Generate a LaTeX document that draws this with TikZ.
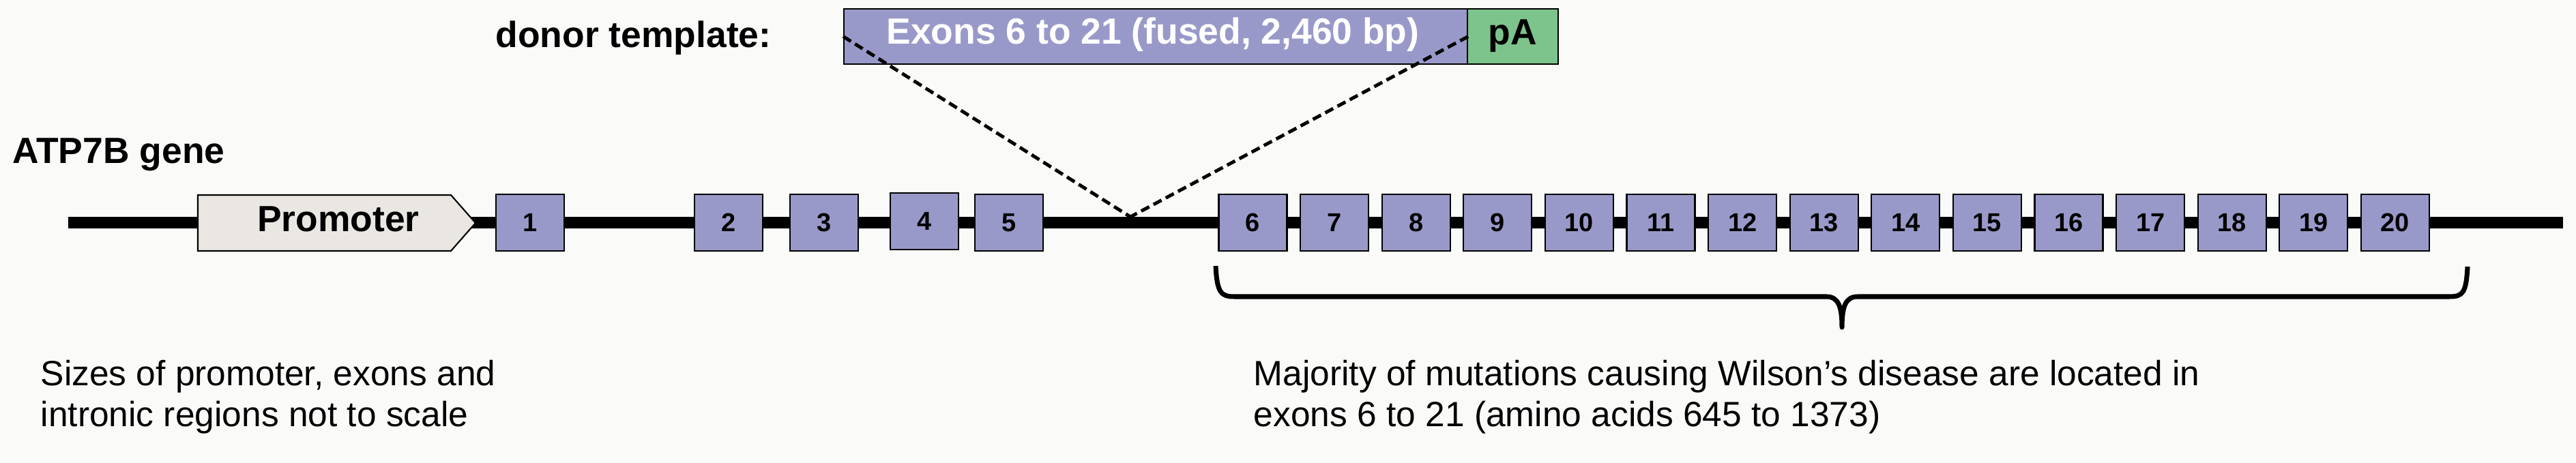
\documentclass[tikz,border=0pt]{standalone}
\usepackage{fontspec}
\setmainfont{Liberation Sans}
\definecolor{exonblue}{RGB}{153,153,201}
\definecolor{promgray}{RGB}{234,231,227}
\definecolor{pagreen}{RGB}{125,195,140}
\definecolor{bggray}{RGB}{250,250,248}

\begin{document}
\begin{tikzpicture}[
exon/.style={draw, fill=exonblue, line width=0.6pt, minimum width=1cm, minimum height=0.83cm, inner sep=0pt, font=\bfseries\fontsize{10.8}{12}\selectfont},
title/.style={inner sep=0pt, font=\bfseries\fontsize{15.2}{18}\selectfont},
note/.style={inner sep=0pt, align=left, font=\fontsize{14.65}{17.07}\selectfont},
dashline/.style={line width=1.4pt, dash pattern=on 3.8pt off 2pt},
brace/.style={line width=2pt, line join=round}
]
\fill[bggray] (0,0) rectangle (37.76,-6.79);
\useasboundingbox (0,0) rectangle (37.76,-6.79);

\node[title, anchor=base west] (donorlbl) at (7.26,-0.70) {donor template:};
\node[title, anchor=base west] (genelbl) at (0.18,-2.40) {ATP7B gene};

\node[draw, fill=exonblue, line width=0.6pt, minimum width=9.14cm, minimum height=0.81cm, inner sep=0pt] (donor) at (16.94,-0.535) {};
\node[draw, fill=pagreen, line width=0.6pt, minimum width=1.33cm, minimum height=0.81cm, inner sep=0pt] (pA) at (22.175,-0.535) {};
\node[title, text=white, anchor=base] (donortxt) at (16.90,-0.65) {Exons 6 to 21 (fused, 2,460 bp)};
\node[title, anchor=base] (patxt) at (22.175,-0.66) {pA};

\coordinate (gstart) at (1.00,-3.265);
\coordinate (gend) at (37.57,-3.265);
\draw[line width=0.17cm] (gstart) -- (gend);

\draw[fill=promgray, line width=0.6pt] (2.90,-2.86) -- (6.61,-2.86) -- (6.97,-3.27) -- (6.61,-3.68) -- (2.90,-3.68) -- cycle;
\node[title, anchor=base] (prom) at (4.96,-3.40) {Promoter};

\node[exon] (e1) at (7.77,-3.265) {1};
\node[exon] (e2) at (10.68,-3.265) {2};
\node[exon] (e3) at (12.08,-3.265) {3};
\node[exon] (e4) at (13.55,-3.245) {4};
\node[exon] (e5) at (14.79,-3.265) {5};
\foreach \i in {6,...,20}
  \node[exon] (e\i) at ({18.365+(\i-6)*1.196},-3.265) {\i};

\coordinate (ins) at (16.57,-3.18);
\draw[dashline] (donor.west) -- (ins);
\draw[dashline] (donor.east) -- (ins);

\draw[brace] (17.82,-3.90) .. controls (17.84,-4.30) and (17.90,-4.35) .. (18.10,-4.35) -- (26.77,-4.35)
  .. controls (26.95,-4.35) and (27.00,-4.50) .. (27.00,-4.80)
  .. controls (27.00,-4.50) and (27.05,-4.35) .. (27.23,-4.35) -- (35.90,-4.35)
  .. controls (36.10,-4.35) and (36.15,-4.30) .. (36.17,-3.91);

\node[note, anchor=north west] (scalenote) at (0.59,-5.275) {Sizes of promoter, exons and\\intronic regions not to scale};
\node[note, anchor=north west] (mutnote) at (18.37,-5.275) {Majority of mutations causing Wilson’s disease are located in\\exons 6 to 21 (amino acids 645 to 1373)};
\end{tikzpicture}
\end{document}
